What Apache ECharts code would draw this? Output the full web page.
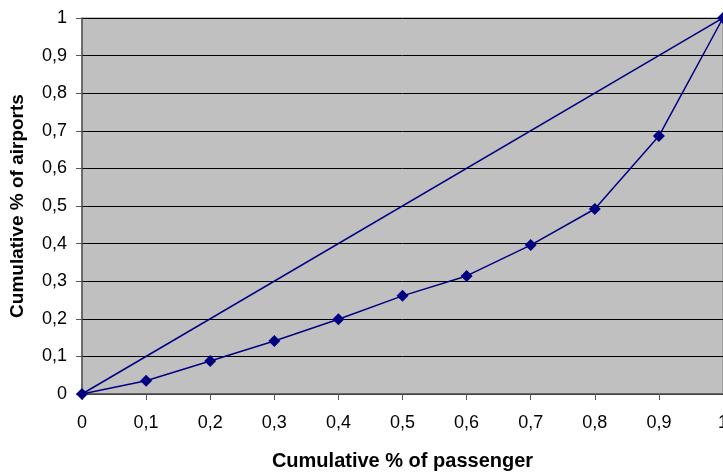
<!DOCTYPE html>
<html>
<head>
<meta charset="utf-8">
<script src="https://cdn.jsdelivr.net/npm/echarts@6/dist/echarts.min.js"></script>
<style>
html,body{margin:0;padding:0;background:#fff;}
#chart{width:723px;height:472px;}
</style>
</head>
<body>
<div id="chart"></div>
<script>
var xValues = [0, 0.1, 0.2, 0.3, 0.4, 0.5, 0.6, 0.7, 0.8, 0.9, 1];
var lorenzValues = [0, 0.035, 0.088, 0.141, 0.199, 0.261, 0.314, 0.396, 0.492, 0.686, 1];
var equalityX = [0, 1];
var equalityY = [0, 1];
var xAxisTitle = 'Cumulative % of passenger';
var yAxisTitle = 'Cumulative % of airports';

var fmt = function (v) { return String(Math.round(v * 10) / 10).replace('.', ','); };
var font = 'Liberation Sans, Arial, sans-serif';

var chart = echarts.init(document.getElementById('chart'), null, {renderer: 'canvas'});
chart.setOption({
  animation: false,
  backgroundColor: '#ffffff',
  grid: {
    left: 82, top: 18, width: 641, height: 376,
    outerBoundsMode: 'none', containLabel: false,
    show: true, backgroundColor: '#C0C0C0', borderColor: '#808080', borderWidth: 1
  },
  xAxis: {
    type: 'value', min: 0, max: 1, interval: 0.1,
    name: xAxisTitle, nameLocation: 'middle', nameGap: 57,
    nameTextStyle: {fontFamily: font, fontSize: 20, fontWeight: 'bold', color: '#000'},
    axisLine: {show: true, lineStyle: {color: '#555', width: 1.5}},
    axisTick: {show: true, length: 6, lineStyle: {color: '#555'}},
    axisLabel: {margin: 20, formatter: fmt, fontFamily: font, fontSize: 18, color: '#000'},
    splitLine: {show: false}
  },
  yAxis: {
    type: 'value', min: 0, max: 1, interval: 0.1,
    name: yAxisTitle, nameLocation: 'middle', nameGap: 55,
    nameTextStyle: {fontFamily: font, fontSize: 19, fontWeight: 'bold', color: '#000'},
    axisLine: {show: true, lineStyle: {color: '#555', width: 1.5}},
    axisTick: {show: true, length: 6, lineStyle: {color: '#555'}},
    axisLabel: {margin: 15, formatter: fmt, fontFamily: font, fontSize: 18, color: '#000'},
    splitLine: {show: true, lineStyle: {color: '#000', width: 1}}
  },
  series: [
    {
      type: 'line',
      data: equalityX.map(function (x, i) { return [x, equalityY[i]]; }),
      showSymbol: false,
      symbol: 'none',
      lineStyle: {color: '#000080', width: 1.5},
      z: 3
    },
    {
      type: 'line',
      data: xValues.map(function (x, i) { return [x, lorenzValues[i]]; }),
      symbol: 'diamond',
      symbolSize: 12,
      itemStyle: {color: '#000080'},
      lineStyle: {color: '#000080', width: 1.5},
      z: 4
    }
  ]
});
</script>
</body>
</html>
